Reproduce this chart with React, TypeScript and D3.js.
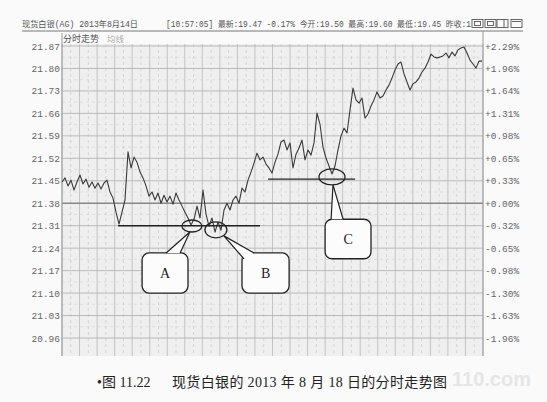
import React from 'react';
import * as d3 from 'd3';

// price samples, left to right across the session
const prices = [
  21.446, 21.459, 21.434, 21.452, 21.421, 21.446, 21.468, 21.44, 21.455, 21.43,
  21.446, 21.427, 21.443, 21.424, 21.443, 21.452, 21.415, 21.396, 21.352, 21.315,
  21.352, 21.39, 21.54, 21.49, 21.524, 21.508, 21.477, 21.459, 21.434, 21.402,
  21.415, 21.39, 21.412, 21.38, 21.405, 21.384, 21.402, 21.377, 21.412, 21.39,
  21.371, 21.352, 21.334, 21.312, 21.33, 21.371, 21.334, 21.421, 21.346, 21.309,
  21.334, 21.29, 21.321, 21.296, 21.359, 21.38, 21.359, 21.39, 21.402, 21.38,
  21.427, 21.415, 21.452, 21.477, 21.505, 21.536, 21.515, 21.524, 21.502, 21.49,
  21.474, 21.508, 21.533, 21.571, 21.577, 21.546, 21.568, 21.49, 21.533, 21.552,
  21.577, 21.515, 21.546, 21.53, 21.568, 21.661, 21.626, 21.555, 21.521, 21.496,
  21.471, 21.496, 21.546, 21.589, 21.614, 21.599, 21.67, 21.739, 21.702, 21.692,
  21.708, 21.645, 21.658, 21.683, 21.702, 21.727, 21.708, 21.714, 21.733, 21.748,
  21.77, 21.795, 21.814, 21.82, 21.783, 21.758, 21.733, 21.752, 21.758, 21.77,
  21.789, 21.801, 21.82, 21.845, 21.836, 21.833, 21.836, 21.839, 21.848, 21.833,
  21.851, 21.839, 21.858, 21.864, 21.867, 21.848, 21.826, 21.814, 21.801, 21.823,
  21.823,
];

const priceTicks = [21.87, 21.8, 21.73, 21.66, 21.59, 21.52, 21.45, 21.38, 21.31, 21.24, 21.17, 21.1, 21.03, 20.96];
const pctTicks = ['+2.29%', '+1.96%', '+1.64%', '+1.31%', '+0.98%', '+0.65%', '+0.33%', '+0.00%', '-0.32%', '-0.65%', '-0.98%', '-1.30%', '-1.63%', '-1.96%'];
const prevClose = 21.38;
const columns = 24;

// support lines: [price, from index, to index]
const supports: [number, number, number][] = [
  [21.31, 18.7, 66],
  [21.455, 68.7, 97.7],
];
// circled lows: label, index, price
const lows: [string, number, number][] = [
  ['A', 43.3, 21.309],
  ['B', 51.3, 21.297],
  ['C', 90, 21.462],
];
// callout boxes: label, index from, index to, price top, price bottom
const callouts: [string, number, number, number, number][] = [
  ['A', 26.7, 42, 21.225, 21.1],
  ['B', 60, 75.7, 21.225, 21.1],
  ['C', 87.7, 103, 21.33, 21.207],
];

const headerName = '现货白银(AG) 2013年8月14日';
const headerQuote = '[10:57:05] 最新:19.47 -0.17% 今开:19.50 最高:19.60 最低:19.45 昨收:1';

const W = 547;
const H = 402;
const left = 62;
const right = 483;
const gridTop = 33;
const gridBottom = 356;

const App: React.FC = () => {
  const x = d3.scaleLinear().domain([0, prices.length - 1]).range([left, right - 1]);
  const y = d3.scaleLinear().domain([20.96, 21.87]).range([338, 46]);
  const colW = (right - left) / columns;

  const line = d3
    .line<number>()
    .x((_, i) => x(i))
    .y((d) => y(d));

  const mono = "'Liberation Mono', 'DejaVu Sans Mono', 'Noto Sans CJK SC', monospace";
  const cjk = "'Noto Sans CJK SC', sans-serif";
  const serif = "'Liberation Serif', 'Noto Sans CJK SC', serif";

  const vlines = d3.range(0, columns + 1);

  return (
    <svg width={W} height={H} style={{ position: 'absolute', left: 0, top: 0, background: '#fafafa' }}>
      {/* header */}
      <text x={22} y={27} fontSize={8.5} fontFamily={mono} fill="#555" textLength={116} lengthAdjust="spacingAndGlyphs">
        {headerName}
      </text>
      <text x={166} y={27} fontSize={8.5} fontFamily={mono} fill="#555" textLength={305} lengthAdjust="spacingAndGlyphs">
        {headerQuote}
      </text>
      {[472, 485, 497, 511].map((bx, i) => (
        <g key={bx} fill="none" stroke="#555" strokeWidth={0.9}>
          <rect x={bx} y={19.5} width={11} height={8} fill="#fafafa" />
          {i < 2 && <rect x={bx + 2.5} y={21.5} width={6} height={4} />}
          {i === 2 && <line x1={bx + 7} y1={20} x2={bx + 7} y2={27} />}
          {i === 3 && <line x1={bx + 1} y1={21.5} x2={bx + 10} y2={21.5} />}
        </g>
      ))}
      <line x1={22} y1={31} x2={523} y2={31} stroke="#777" strokeWidth={1} />

      {/* plot background */}
      <rect x={left} y={44} width={right - left} height={gridBottom - 44} fill="#efefef" />

      {/* vertical grid: solid columns with dashed halves */}
      {vlines.map((i) => (
        <line key={'v' + i} x1={left + i * colW} y1={44} x2={left + i * colW} y2={gridBottom} stroke="#b9b9b9" strokeWidth={0.8} />
      ))}
      {vlines.slice(0, -1).map((i) => (
        <line
          key={'vd' + i}
          x1={left + (i + 0.5) * colW}
          y1={44}
          x2={left + (i + 0.5) * colW}
          y2={gridBottom}
          stroke="#c8c8c8"
          strokeWidth={0.7}
          strokeDasharray="3,3"
        />
      ))}
      {/* horizontal grid */}
      {priceTicks.map((p) => (
        <line
          key={'h' + p}
          x1={left}
          x2={right}
          y1={y(p)}
          y2={y(p)}
          stroke={p === prevClose ? '#888' : '#b4b4b4'}
          strokeWidth={p === prevClose ? 1.3 : 0.9}
        />
      ))}
      {priceTicks.slice(0, -1).map((p, i) => (
        <line
          key={'hd' + p}
          x1={left}
          x2={right}
          y1={(y(p) + y(priceTicks[i + 1])) / 2}
          y2={(y(p) + y(priceTicks[i + 1])) / 2}
          stroke="#d2d2d2"
          strokeWidth={0.6}
          strokeDasharray="3,3"
        />
      ))}

      {/* borders */}
      <line x1={left} y1={gridTop} x2={left} y2={gridBottom} stroke="#999" strokeWidth={1} />
      <line x1={right} y1={31} x2={right} y2={gridBottom} stroke="#999" strokeWidth={1} />
      <text x={63} y={42} fontSize={9} fontFamily={cjk} fill="#555">分时走势</text>
      <text x={107} y={42} fontSize={8.5} fontFamily={cjk} fill="#aaa">均线</text>

      {/* axis labels */}
      {priceTicks.map((p) => (
        <text key={'l' + p} x={60} y={y(p) + 3.5} textAnchor="end" fontSize={9.5} fontFamily={mono} fill="#666">
          {d3.format('.2f')(p)}
        </text>
      ))}
      {pctTicks.map((t, i) => (
        <text key={'r' + t} x={485} y={y(priceTicks[i]) + 3.5} fontSize={9.5} fontFamily={mono} fill="#666">
          {t}
        </text>
      ))}

      {/* price line */}
      <path d={line(prices) ?? ''} fill="none" stroke="#3a3a3a" strokeWidth={1.1} strokeLinejoin="round" />

      {/* annotations */}
      {supports.map(([p, a, b]) => (
        <line key={'s' + p} x1={x(a)} x2={x(b)} y1={y(p)} y2={y(p)} stroke="#222" strokeWidth={1.4} />
      ))}
      {lows.map(([k, i, p]) => (
        <ellipse
          key={'e' + k}
          cx={x(i)}
          cy={y(p)}
          rx={k === 'A' ? 10 : k === 'B' ? 11 : 13}
          ry={k === 'A' ? 6 : 8}
          fill="none"
          stroke="#222"
          strokeWidth={1.3}
        />
      ))}
      {callouts.map(([k, a, b, pt, pb]) => {
        const low = lows.find((l) => l[0] === k)!;
        const x0 = x(a);
        const x1 = x(b);
        const y0 = y(pt);
        const y1 = y(pb);
        const ex = x(low[1]);
        const ey = y(low[2]);
        let tip: [number, number][];
        if (k === 'A') tip = [[x0 + 24, y0], [ex - 2, ey + 6], [x0 + 38, y0]];
        else if (k === 'B') tip = [[x0 + 2, y0 + 6], [ex + 8, ey + 6], [x0 + 12, y0]];
        else tip = [[x0 + 6, y0], [ex + 1, ey + 8], [x0 + 18, y0]];
        return (
          <g key={'c' + k}>
            <rect x={x0} y={y0} width={x1 - x0} height={y1 - y0} rx={7} fill="#fcfcfc" stroke="#222" strokeWidth={1.3} />
            <path d={d3.line()(tip) ?? ''} fill="#fcfcfc" stroke="#222" strokeWidth={1.2} />
            <text x={(x0 + x1) / 2} y={(y0 + y1) / 2 + 5} textAnchor="middle" fontSize={14} fontFamily={serif} fill="#222">
              {k}
            </text>
          </g>
        );
      })}

      {/* watermark */}
      <text x={452} y={386} fontSize={20} fontWeight="bold" fontFamily="'Liberation Sans', sans-serif" fill="#e6e6e6">
        110.com
      </text>

      {/* caption */}
      <text x={97} y={387} fontSize={14} fontFamily={serif} fill="#222">
        •图 11.22
      </text>
      <text x={172} y={387} fontSize={14} fontFamily={serif} fill="#222" textLength={275} lengthAdjust="spacing">
        现货白银的 2013 年 8 月 18 日的分时走势图
      </text>
    </svg>
  );
};

export default App;
